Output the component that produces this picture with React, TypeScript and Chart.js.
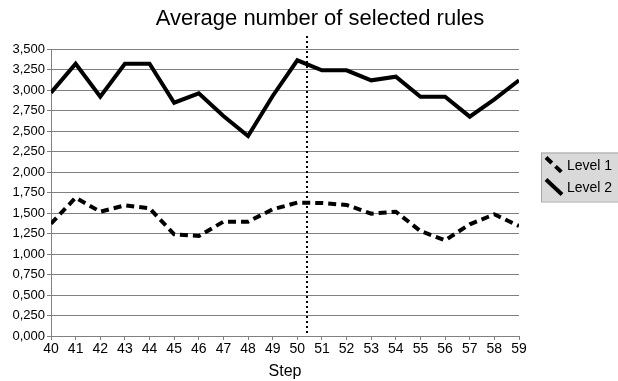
import React, { useEffect, useRef } from "react";
import { Chart, registerables } from "chart.js";

Chart.register(...registerables);

const titleText = "Average number of selected rules";
const xAxisTitle = "Step";
const steps = [40, 41, 42, 43, 44, 45, 46, 47, 48, 49, 50, 51, 52, 53, 54, 55, 56, 57, 58, 59];
const seriesLabels = ["Level 1", "Level 2"];
const level1 = [1.37, 1.687, 1.516, 1.594, 1.557, 1.24, 1.22, 1.394, 1.394, 1.545, 1.626, 1.622, 1.598, 1.492, 1.516, 1.28, 1.167, 1.362, 1.484, 1.341];
const level2 = [2.967, 3.32, 2.918, 3.32, 3.32, 2.845, 2.96, 2.683, 2.439, 2.927, 3.362, 3.24, 3.24, 3.118, 3.162, 2.918, 2.918, 2.675, 2.887, 3.118];
const yMin = 0;
const yMax = 3.5;
const yStep = 0.25;
const markerStep = 50.4;

const FONT = "'Liberation Sans', Arial, sans-serif";

const overlayPlugin = {
  id: "overlay",
  afterDraw(chart: any) {
    const ctx = chart.ctx;
    const area = chart.chartArea;
    const xs = chart.scales.x;
    ctx.save();
    // title
    ctx.fillStyle = "#000";
    ctx.font = `22px ${FONT}`;
    ctx.textAlign = "center";
    ctx.textBaseline = "middle";
    ctx.fillText(titleText, chart.width / 2 + 11, 19);

    // dotted marker line
    const mx = xs.getPixelForValue(markerStep);
    ctx.strokeStyle = "#000";
    ctx.lineWidth = 2;
    ctx.setLineDash([2, 3]);
    ctx.beginPath();
    ctx.moveTo(Math.round(mx), area.top - 13);
    ctx.lineTo(Math.round(mx), area.bottom);
    ctx.stroke();
    ctx.setLineDash([]);

    // legend
    const lx = area.right + 22;
    const ly = 152.5;
    const lw = 96;
    const lh = 49;
    ctx.fillStyle = "#d9d9d9";
    ctx.fillRect(lx, ly, lw, lh);
    ctx.strokeStyle = "#a6a6a6";
    ctx.lineWidth = 1;
    ctx.strokeRect(lx + 0.5, ly + 0.5, lw, lh);
    chart.data.datasets.forEach((ds: any, i: number) => {
      const cy = ly + 13 + i * 22;
      ctx.strokeStyle = ds.borderColor;
      ctx.lineWidth = 4;
      ctx.setLineDash(ds.borderDash || []);
      ctx.beginPath();
      ctx.moveTo(lx + 5, cy - 8);
      ctx.lineTo(lx + 21, cy + 7);
      ctx.stroke();
      ctx.setLineDash([]);
      ctx.fillStyle = "#000";
      ctx.font = `14px ${FONT}`;
      ctx.textAlign = "left";
      ctx.textBaseline = "middle";
      ctx.fillText(ds.label, lx + 26, cy + 1);
    });
    ctx.restore();
  },
};

export default function App() {
  const ref = useRef<HTMLCanvasElement>(null);
  useEffect(() => {
    document.body.style.margin = "0";
    const canvas = ref.current!;
    const chart = new Chart(canvas, {
      type: "line",
      data: {
        datasets: [
          {
            label: seriesLabels[0],
            data: steps.map((s, i) => ({ x: s, y: level1[i] })),
            borderColor: "#000",
            borderWidth: 4,
            borderDash: [8, 5],
            pointRadius: 0,
            tension: 0,
            fill: false,
          },
          {
            label: seriesLabels[1],
            data: steps.map((s, i) => ({ x: s, y: level2[i] })),
            borderColor: "#000",
            borderWidth: 4,
            pointRadius: 0,
            tension: 0,
            fill: false,
          },
        ],
      },
      options: {
        animation: false,
        responsive: false,
        layout: { padding: { top: 49, right: 99, left: 0, bottom: 0 } },
        plugins: {
          legend: { display: false },
          title: { display: false },
          tooltip: { enabled: false },
        },
        scales: {
          x: {
            type: "linear",
            min: steps[0],
            max: steps[steps.length - 1],
            ticks: {
              stepSize: 1,
              color: "#000",
              font: { family: FONT, size: 14 },
              padding: 1,
              maxRotation: 0,
              autoSkip: false,
            },
            grid: {
              drawOnChartArea: false,
              drawTicks: true,
              tickLength: 4,
              color: "#808080",
            },
            border: { color: "#808080", width: 1 },
            title: {
              display: true,
              text: xAxisTitle,
              color: "#000",
              font: { family: FONT, size: 16 },
              padding: { top: 3, bottom: 0 },
            },
          },
          y: {
            min: yMin,
            max: yMax,
            ticks: {
              stepSize: yStep,
              color: "#000",
              font: { family: FONT, size: 13 },
              padding: 2,
              callback: (v: any) => Number(v).toFixed(3).replace(".", ","),
            },
            grid: {
              color: "#808080",
              tickLength: 4,
            },
            border: { color: "#808080", width: 1 },
            afterFit: (s: any) => {
              s.width = 51;
            },
          },
        },
      },
      plugins: [overlayPlugin],
    });
    return () => chart.destroy();
  }, []);
  return (
    <div style={{ width: 618, height: 381 }}>
      <canvas ref={ref} width={618} height={381} style={{ display: "block" }} />
    </div>
  );
}
